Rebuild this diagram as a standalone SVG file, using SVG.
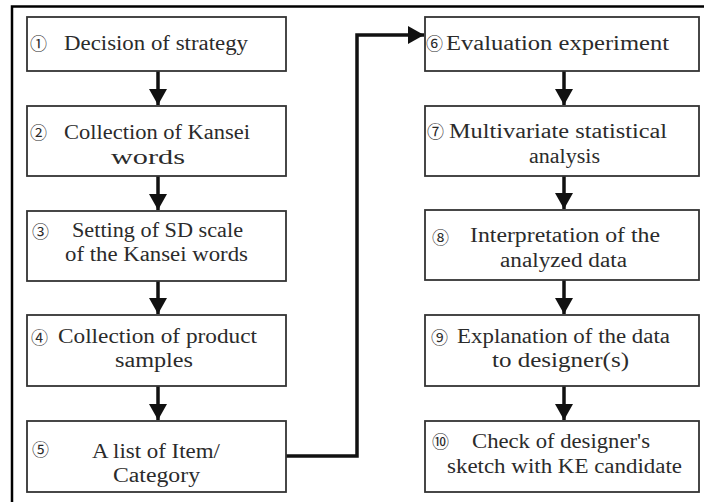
<svg xmlns="http://www.w3.org/2000/svg" width="704" height="502" viewBox="0 0 704 502">
  <defs>
    <marker id="head" markerUnits="userSpaceOnUse" markerWidth="20" markerHeight="20" refX="16" refY="9" orient="auto">
      <path d="M0,0 L16,9 L0,18 z" fill="#111"/>
    </marker>
    <style>
      .box { fill: #fff; stroke: #333; stroke-width: 1.8; }
      .lbl { font-family: "Liberation Serif", "DejaVu Serif", serif; font-size: 20px; fill: #2b2b2b; }
      .num { font-family: "Noto Sans CJK JP", "DejaVu Sans", sans-serif; font-size: 17px; fill: #2b2b2b; }
      .flow { fill: none; stroke: #111; stroke-width: 3.5; marker-end: url(#head); }
    </style>
  </defs>
  <rect width="704" height="502" fill="#fff"/>
  <!-- outer frame -->
  <rect x="12" y="6.5" width="700" height="510" fill="none" stroke="#000" stroke-width="2.5"/>

  <g id="connectors">
    <line class="flow" x1="158" y1="71" x2="158" y2="105"/>
    <line class="flow" x1="158" y1="176" x2="158" y2="210"/>
    <line class="flow" x1="158" y1="281" x2="158" y2="314"/>
    <line class="flow" x1="158" y1="386" x2="158" y2="420"/>
    <polyline class="flow" points="286,456 357,456 357,35 424,35"/>
    <line class="flow" x1="564" y1="71" x2="564" y2="105"/>
    <line class="flow" x1="564" y1="176" x2="564" y2="209"/>
    <line class="flow" x1="564" y1="280" x2="564" y2="314"/>
    <line class="flow" x1="564" y1="386" x2="564" y2="420"/>
  </g>

  <g id="step1">
    <rect class="box" x="27" y="17" width="259" height="54"/>
    <text class="num" x="30" y="50">①</text>
    <text class="lbl" x="64" y="50" textLength="184" lengthAdjust="spacingAndGlyphs">Decision of strategy</text>
  </g>
  <g id="step2">
    <rect class="box" x="27" y="106" width="259" height="70"/>
    <text class="num" x="30" y="139">②</text>
    <text class="lbl" x="64" y="139" textLength="186" lengthAdjust="spacingAndGlyphs">Collection of Kansei</text>
    <text class="lbl" x="111" y="164" textLength="74" lengthAdjust="spacingAndGlyphs">words</text>
  </g>
  <g id="step3">
    <rect class="box" x="27" y="211" width="259" height="70"/>
    <text class="num" x="32" y="238">③</text>
    <text class="lbl" x="72" y="237" textLength="171" lengthAdjust="spacingAndGlyphs">Setting of SD scale</text>
    <text class="lbl" x="65" y="261" textLength="183" lengthAdjust="spacingAndGlyphs">of the Kansei words</text>
  </g>
  <g id="step4">
    <rect class="box" x="27" y="315" width="259" height="71"/>
    <text class="num" x="31" y="344">④</text>
    <text class="lbl" x="58" y="343" textLength="199" lengthAdjust="spacingAndGlyphs">Collection of product</text>
    <text class="lbl" x="115" y="367" textLength="78" lengthAdjust="spacingAndGlyphs">samples</text>
  </g>
  <g id="step5">
    <rect class="box" x="27" y="421" width="259" height="71"/>
    <text class="num" x="32" y="456">⑤</text>
    <text class="lbl" x="92" y="458" textLength="128" lengthAdjust="spacingAndGlyphs">A list of Item/</text>
    <text class="lbl" x="113" y="482" textLength="87" lengthAdjust="spacingAndGlyphs">Category</text>
  </g>

  <g id="step6">
    <rect class="box" x="425" y="17" width="274" height="54"/>
    <text class="num" x="426" y="50">⑥</text>
    <text class="lbl" x="446" y="50" textLength="223" lengthAdjust="spacingAndGlyphs">Evaluation experiment</text>
  </g>
  <g id="step7">
    <rect class="box" x="425" y="106" width="274" height="70"/>
    <text class="num" x="427" y="138">⑦</text>
    <text class="lbl" x="449" y="138" textLength="218" lengthAdjust="spacingAndGlyphs">Multivariate statistical</text>
    <text class="lbl" x="529" y="163" textLength="71" lengthAdjust="spacingAndGlyphs">analysis</text>
  </g>
  <g id="step8">
    <rect class="box" x="425" y="210" width="274" height="70"/>
    <text class="num" x="432" y="244">⑧</text>
    <text class="lbl" x="470" y="242" textLength="190" lengthAdjust="spacingAndGlyphs">Interpretation of the</text>
    <text class="lbl" x="500" y="267" textLength="127" lengthAdjust="spacingAndGlyphs">analyzed data</text>
  </g>
  <g id="step9">
    <rect class="box" x="425" y="315" width="274" height="71"/>
    <text class="num" x="431" y="344">⑨</text>
    <text class="lbl" x="457" y="343" textLength="213" lengthAdjust="spacingAndGlyphs">Explanation of the data</text>
    <text class="lbl" x="492" y="367" textLength="137" lengthAdjust="spacingAndGlyphs">to designer(s)</text>
  </g>
  <g id="step10">
    <rect class="box" x="425" y="421" width="274" height="71"/>
    <text class="num" x="432" y="448">⑩</text>
    <text class="lbl" x="472" y="448" textLength="178" lengthAdjust="spacingAndGlyphs">Check of designer's</text>
    <text class="lbl" x="447" y="473" textLength="235" lengthAdjust="spacingAndGlyphs">sketch with KE candidate</text>
  </g>
</svg>
